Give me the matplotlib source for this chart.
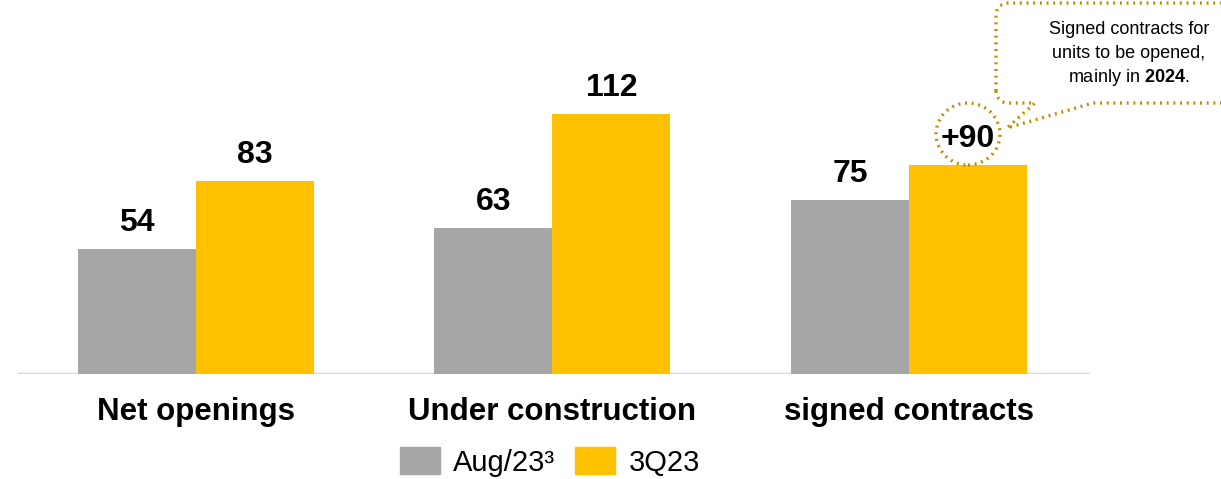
import matplotlib
matplotlib.use("Agg")
import matplotlib.pyplot as plt
from matplotlib.patches import Ellipse, Patch
import numpy as np

categories = ["Net openings", "Under construction", "signed contracts"]
series_names = ["Aug/23³", "3Q23"]
aug23 = [54, 63, 75]
q3_23 = [83, 112, 90]
q3_labels = ["83", "112", "+90"]
callout_lines = ["Signed contracts for", "units to be opened,", r"mainly in $\mathbf{2024}$."]

GRAY = "#A6A6A6"
GOLD = "#FFC000"
DOTS = "#BF9000"

plt.rcParams["font.family"] = ["Liberation Sans", "DejaVu Sans"]
plt.rcParams["mathtext.fontset"] = "custom"
plt.rcParams["mathtext.rm"] = "Liberation Sans"
plt.rcParams["mathtext.bf"] = "Liberation Sans:bold"

W, H = 1221, 479
fig = plt.figure(figsize=(W / 100, H / 100), dpi=100)

# axes spanning the baseline; 2.32 px per unit
left_px, right_px, base_px = 18, 1090, 374
ymax = 120
ax_h_px = ymax * 2.32
ax = fig.add_axes([left_px / W, (H - base_px) / H, (right_px - left_px) / W, ax_h_px / H])
ax.set_xlim(-0.4993, 2.508)
ax.set_ylim(0, ymax)
ax.axis("off")

x = np.arange(len(categories))
bw = 0.331
ax.bar(x - bw / 2, aug23, width=bw, color=GRAY, zorder=2)
ax.bar(x + bw / 2, q3_23, width=bw, color=GOLD, zorder=2)
ax.axhline(0, color="#D9D9D9", lw=2.5, zorder=1)

for xi, v in zip(x, aug23):
    ax.annotate(str(v), (xi - bw / 2, v), xytext=(0, 11), textcoords="offset pixels",
                ha="center", va="bottom", fontsize=23, fontweight="bold")
for xi, v, lab in zip(x, q3_23, q3_labels):
    ax.annotate(lab, (xi + bw / 2, v), xytext=(0, 11), textcoords="offset pixels",
                ha="center", va="bottom", fontsize=23, fontweight="bold")

for xi, c in zip(x, categories):
    ax.annotate(c, (xi, 0), xytext=(0, -23), textcoords="offset pixels",
                ha="center", va="top", fontsize=22.5, fontweight="bold")

dot_style = (0, (0.6, 1.4))

# dotted circle around the +90 label
circ = Ellipse((968 / W, 1 - 134 / H), 64 / W, 62 / H, transform=fig.transFigure,
               fill=False, edgecolor=DOTS, lw=2.4, linestyle=dot_style)
fig.add_artist(circ)

# callout box with pointer (pixel coords, top-left origin)
x0, x1, y0, y1, r = 996, 1240, 3, 103, 12
tip = (1007, 128)
t1, t2 = 1035, 1093


def arc(cx, cy, a0, a1):
    a = np.radians(np.linspace(a0, a1, 10))
    return [(cx + r * np.cos(t), cy + r * np.sin(t)) for t in a]


pts = [(x0, y1 - r)]
pts += arc(x0 + r, y0 + r, 180, 270)
pts += [(x1, y0), (x1, y1), (t2, y1), tip, (t1, y1)]
pts += arc(x0 + r, y1 - r, 90, 180)
px = np.array([p[0] for p in pts]) / W
py = 1 - np.array([p[1] for p in pts]) / H
fig.add_artist(plt.Line2D(px, py, transform=fig.transFigure, color=DOTS, lw=2.4,
                          linestyle=dot_style))

cx = 1129 / W
for i, line in enumerate(callout_lines):
    fig.text(cx, 1 - (30 + 24 * i) / H, line, ha="center", va="center", fontsize=13)

handles = [Patch(color=GRAY), Patch(color=GOLD)]
fig.legend(handles, series_names, loc="center", bbox_to_anchor=(550 / W, 1 - 462 / H),
           ncol=2, frameon=False, fontsize=21, handlelength=1.37, handleheight=1.03,
           handletextpad=0.45, columnspacing=0.68, borderpad=0)

fig.savefig("out.png", dpi=100)
